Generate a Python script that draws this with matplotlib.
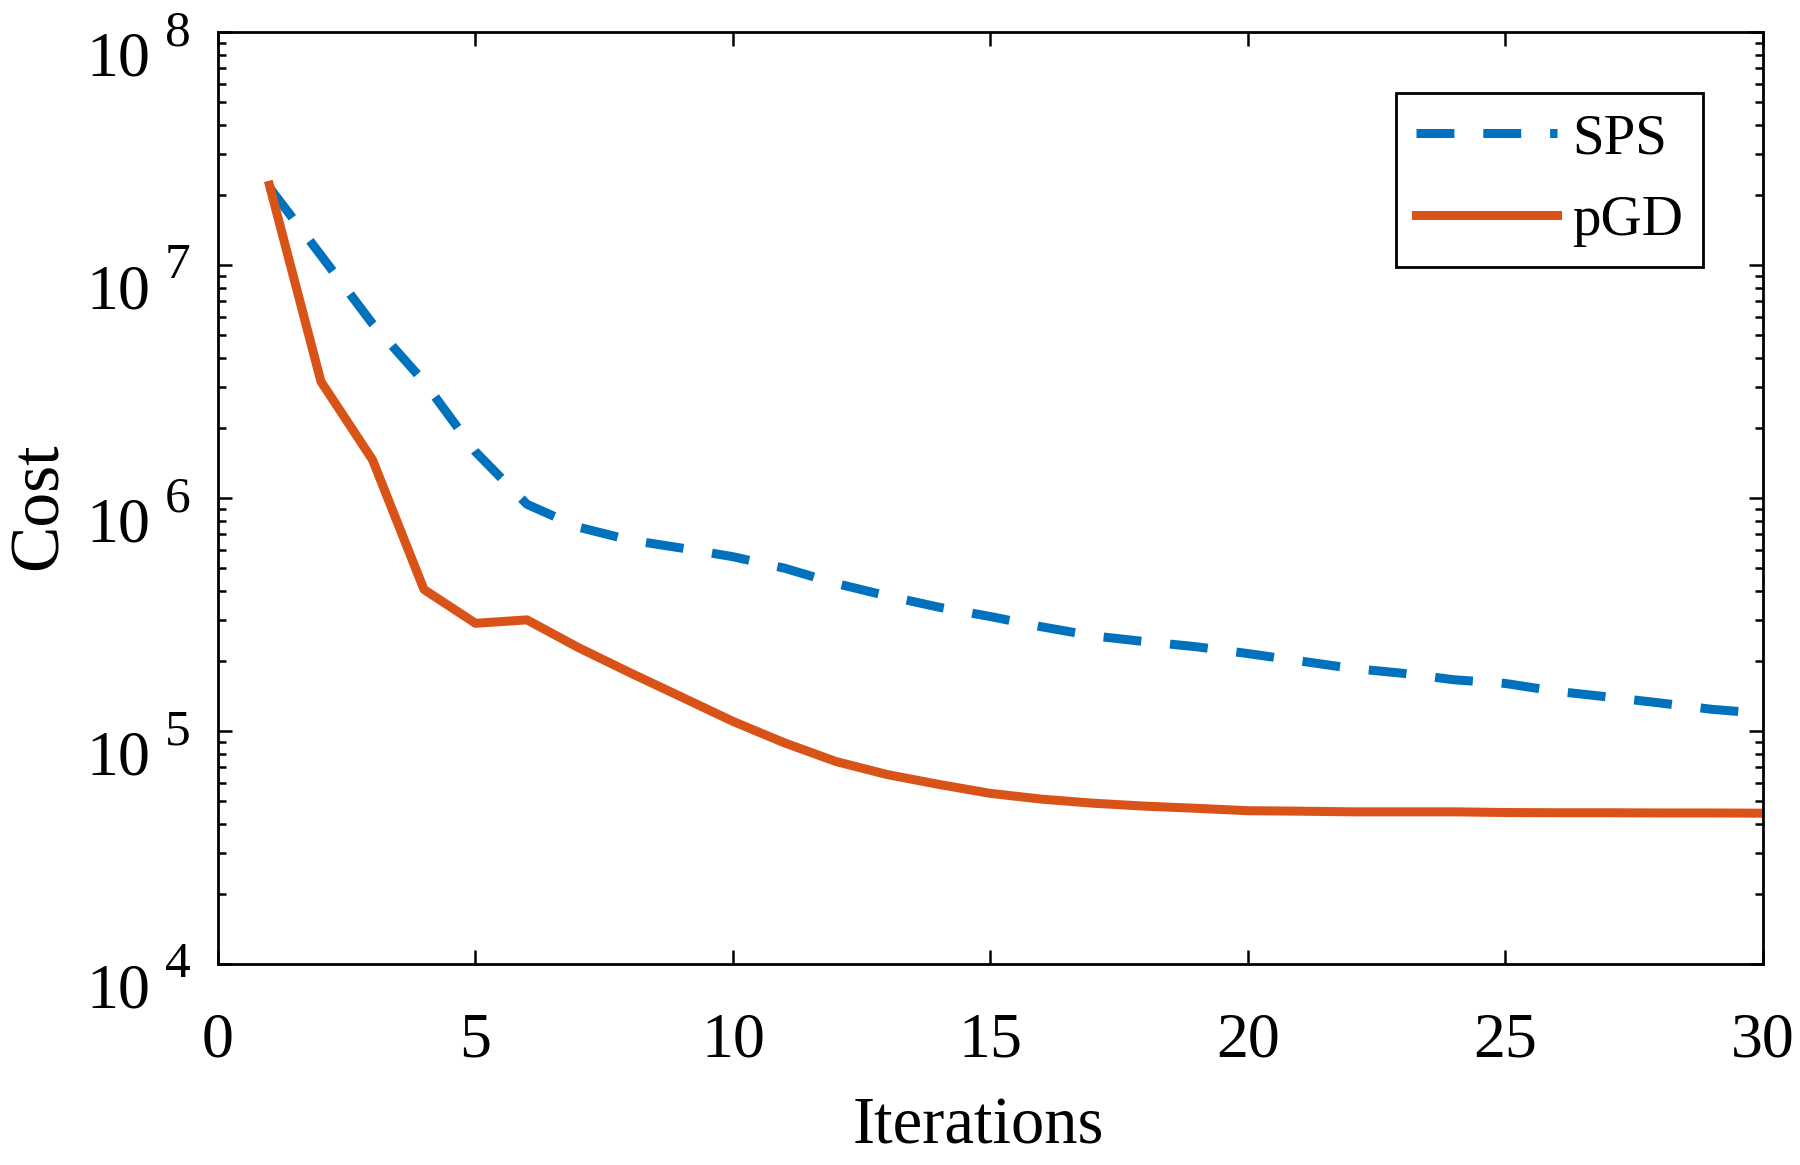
import matplotlib
matplotlib.use("Agg")
import matplotlib.pyplot as plt
from matplotlib.ticker import LogLocator, NullFormatter, MultipleLocator, NullLocator

# Data
iterations = list(range(1, 31))
sps_cost = [2.15e7, 1.1e7, 5.6e6, 3.16e6, 1.58e6, 9.4e5, 7.5e5, 6.6e5, 6.1e5, 5.6e5,
            5.0e5, 4.3e5, 3.8e5, 3.4e5, 3.1e5, 2.8e5, 2.56e5, 2.42e5, 2.3e5, 2.15e5,
            2.0e5, 1.86e5, 1.77e5, 1.66e5, 1.6e5, 1.48e5, 1.4e5, 1.32e5, 1.24e5, 1.19e5]
pgd_cost = [2.2e7, 3.16e6, 1.46e6, 4.05e5, 2.9e5, 3.0e5, 2.28e5, 1.78e5, 1.4e5, 1.1e5,
            8.9e4, 7.4e4, 6.5e4, 5.9e4, 5.4e4, 5.1e4, 4.9e4, 4.76e4, 4.66e4, 4.55e4,
            4.53e4, 4.5e4, 4.5e4, 4.5e4, 4.47e4, 4.46e4, 4.46e4, 4.45e4, 4.45e4, 4.44e4]
labels = ['SPS', 'pGD']
decades = [4, 5, 6, 7, 8]

plt.rcParams['font.family'] = ['Liberation Serif', 'DejaVu Serif']

fig = plt.figure(figsize=(18, 11.65), dpi=100)
ax = fig.add_axes([0.1211, 0.1725, 0.9794 - 0.1211, 0.9725 - 0.1725])

ax.plot(iterations, sps_cost, color='#0072BD', lw=6.5, linestyle=(0, (4.2, 3.2)),
        label=labels[0])
ax.plot(iterations, pgd_cost, color='#D95319', lw=6.5, label=labels[1])

ax.set_yscale('log')
ax.set_xlim(0, 30)
ax.set_ylim(1e4, 1e8)
ax.xaxis.set_major_locator(MultipleLocator(5))
ax.xaxis.set_minor_locator(NullLocator())
ax.yaxis.set_major_locator(LogLocator(base=10, numticks=10))
ax.yaxis.set_minor_locator(LogLocator(base=10, subs=range(2, 10), numticks=50))
ax.yaxis.set_major_formatter(NullFormatter())
ax.yaxis.set_minor_formatter(NullFormatter())

for s in ax.spines.values():
    s.set_linewidth(2.0)
ax.tick_params(which='both', direction='in', top=True, right=True, width=1.8)
ax.tick_params(which='major', length=10, labelsize=46)
ax.tick_params(axis='x', which='major', pad=35)
ax.tick_params(which='minor', length=5.5)

# y tick labels as "10" with a raised exponent, MATLAB style
px = 72 / 100
for k in decades:
    ax.annotate('10', xy=(0, 10.0 ** k), xycoords=('axes fraction', 'data'),
                xytext=(-68 * px, -43 * px), textcoords='offset points',
                ha='right', va='baseline', fontsize=46, annotation_clip=False)
    ax.annotate(str(k), xy=(0, 10.0 ** k), xycoords=('axes fraction', 'data'),
                xytext=(-53 * px, -13 * px), textcoords='offset points',
                ha='left', va='baseline', fontsize=37, annotation_clip=False)

ax.set_xlabel('Iterations', fontsize=48)
ax.set_ylabel('Cost', fontsize=50)
ax.xaxis.set_label_coords(0.492, -0.1416)
ax.yaxis.set_label_coords(-0.0945, 0.4914)

leg = ax.legend(loc='upper right', bbox_to_anchor=(0.961, 0.9345), borderaxespad=0,
                fontsize=41, handlelength=2.47, handletextpad=0.26, borderpad=0.35,
                labelspacing=0.53, fancybox=False, framealpha=1, edgecolor='black')
leg.get_frame().set_linewidth(2.0)

fig.savefig('out.png', dpi=100)
